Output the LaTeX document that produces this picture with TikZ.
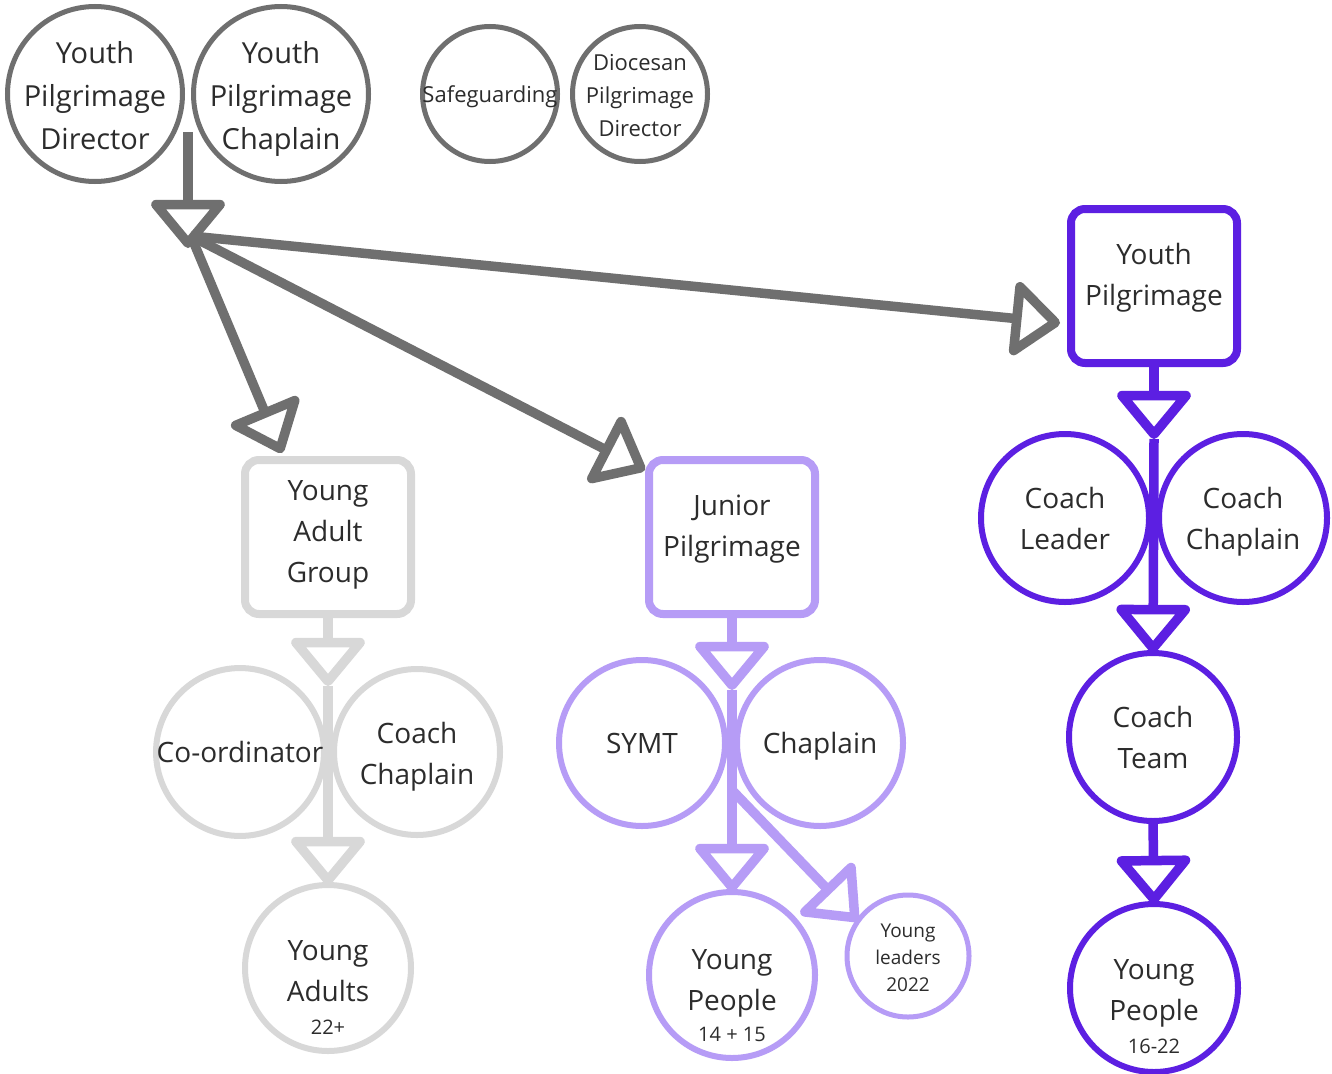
\documentclass[tikz,border=0pt]{standalone}
\usepackage{fontspec}
\setmainfont{Open Sans}
\usetikzlibrary{arrows.meta,calc}
\definecolor{gA}{HTML}{6F6F6F}
\definecolor{gB}{HTML}{D8D8D8}
\definecolor{pA}{HTML}{B69CF6}
\definecolor{pB}{HTML}{5C1FE2}
\definecolor{ink}{HTML}{2C2C2C}
\begin{document}
\begin{tikzpicture}[x=1pt,y=-1pt,
  every node/.style={text=ink},
  every label/.style={text=ink},
  bigtxt/.style={align=center, font=\fontsize{29}{43}\selectfont},
  midtxt/.style={align=center, font=\fontsize{28}{41}\selectfont},
  smtxt/.style={align=center, font=\fontsize{22}{33}\selectfont},
  tinytxt/.style={align=center, font=\fontsize{19}{27}\selectfont},
  circ/.style={circle, draw, inner sep=0pt, outer sep=0pt, fill=white},
  box/.style={rectangle, draw, rounded corners=14pt, line width=8pt, inner sep=0pt, outer sep=0pt, fill=white, minimum width=166pt, minimum height=154pt},
  conn/.style={line width=9.5pt, -{Triangle[open, length=51pt, width=82pt, round]}},
]
\useasboundingbox (0,0) rectangle (1332,1073);
\fill[white] (0,0) rectangle (1332,1073);

% top row
\node[circ, draw=gA, line width=5pt, minimum size=175pt,
  label={[bigtxt, yshift=-2pt]center:{Youth\\Pilgrimage\\Director}}] (ypd) at (95,94) {};
\node[circ, draw=gA, line width=5pt, minimum size=175pt,
  label={[bigtxt, yshift=-5pt]center:{Youth\\Pilgrimage\\Chaplain}}] (ypc) at (281,94) {};
\node[circ, draw=gA, line width=5pt, minimum size=135pt,
  label={[smtxt, yshift=-3pt]center:{Safeguarding}}] (sg) at (490,94) {};
\node[circ, draw=gA, line width=5pt, minimum size=135pt,
  label={[smtxt, yshift=-2pt]center:{Diocesan\\Pilgrimage\\Director}}] (dpd) at (640,94) {};

% boxes
\node[box, draw=pB, label={[midtxt, yshift=8pt]center:{Youth\\Pilgrimage}}] (ypil) at (1154,286) {};
\node[box, draw=gB, label={[midtxt, yshift=2pt]center:{Young\\Adult\\Group}}] (yag) at (328,537) {};
\node[box, draw=pA, label={[midtxt, yshift=8pt]center:{Junior\\Pilgrimage}}] (jp) at (732,537) {};

% young adult column
\node[circ, draw=gB, line width=6pt, minimum size=166pt, midtxt] (co) at (240,752) {Co-ordinator};
\node[circ, draw=gB, line width=6pt, minimum size=166pt,
  label={[midtxt, yshift=-5pt]center:{Coach\\Chaplain}}] (cc) at (417,752) {};
\node[circ, draw=gB, line width=6pt, minimum size=166pt,
  label={[midtxt, yshift=-19pt]center:{Young\\Adults\\[-8pt]{\fontsize{20}{24}\selectfont 22+}}}] (ya) at (328,968) {};

% junior column
\node[circ, draw=pA, line width=6pt, minimum size=166pt, midtxt] (symt) at (642,743) {SYMT};
\node[circ, draw=pA, line width=6pt, minimum size=166pt,
  label={[midtxt, yshift=-3pt]center:{Chaplain}}] (jch) at (820,743) {};
\node[circ, draw=pA, line width=6pt, minimum size=166pt,
  label={[midtxt, yshift=-21pt]center:{Young\\People\\[-10pt]{\fontsize{20}{24}\selectfont 14 + 15}}}] (jyp) at (732,975) {};
\node[circ, draw=pA, line width=5pt, minimum size=122pt,
  label={[tinytxt, yshift=-2pt]center:{Young\\leaders\\2022}}] (yl) at (908,956) {};

% youth pilgrimage column
\node[circ, draw=pB, line width=6pt, minimum size=168pt, midtxt] (cl) at (1065,518) {Coach\\Leader};
\node[circ, draw=pB, line width=6pt, minimum size=168pt,
  label={[midtxt, yshift=-4pt]center:{Coach\\Chaplain}}] (pcc) at (1243,518) {};
\node[circ, draw=pB, line width=6pt, minimum size=168pt, midtxt] (ct) at (1153,737) {Coach\\Team};
\node[circ, draw=pB, line width=6pt, minimum size=168pt,
  label={[midtxt, yshift=-19pt]center:{Young\\People\\[-8pt]{\fontsize{20}{24}\selectfont 16-22}}}] (pyp) at (1154,988) {};

% hub connectors
\coordinate (hubtop) at (188,132);
\coordinate (hub) at (188,248);
\coordinate (hubsrc) at (191,236);
\draw[conn, draw=gA] (hubtop) -- (hub);
\draw[conn, draw=gA] (hubsrc) -- ([shift={(-11pt,-37pt)}]ypil.west);
\draw[conn, draw=gA] (hubsrc) -- ([shift={(-46pt,7pt)}]yag.north);
\draw[conn, draw=gA] (hubsrc) -- ([shift={(-4pt,-10pt)}]jp.north west);

% young adult connectors
\coordinate (yj) at (328,686);
\draw[conn, draw=gB] (yag.south) -- (yj);
\draw[conn, draw=gB] (yj) -- (ya.north);

% junior connectors
\coordinate (jj) at (732,690);
\coordinate (jb) at (732,790);
\draw[conn, draw=pA] (jp.south) -- (jj);
\draw[conn, draw=pA] (jj) -- (jyp.north);
\draw[conn, draw=pA] (jb) -- (yl.145);

% youth pilgrimage connectors
\coordinate (pj) at (1154,439);
\draw[conn, draw=pB] (ypil.south) -- (pj);
\draw[conn, draw=pB] (pj) -- (ct.north);
\draw[conn, draw=pB] (ct.south) -- (pyp.north);
\end{tikzpicture}
\end{document}
